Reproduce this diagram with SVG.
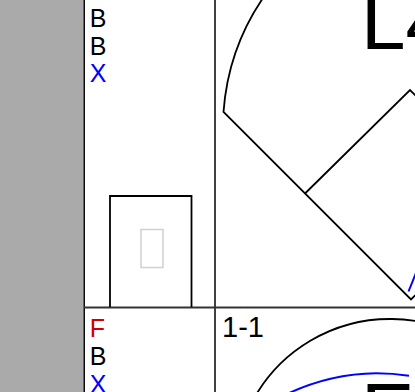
<svg xmlns="http://www.w3.org/2000/svg" width="415" height="392" viewBox="0 0 415 392">
<style>
.t{font-family:"Liberation Sans",Arial,sans-serif;font-size:25px}
.big{font-family:"Liberation Sans",Arial,sans-serif;font-size:80px;fill:#000}
.ln{fill:none;stroke:#000;stroke-width:1.8}
.bl{fill:none;stroke:#0000ff;stroke-width:2}
</style>
<rect x="0" y="0" width="415" height="392" fill="#fff"/>
<rect x="0" y="0" width="83.5" height="392" fill="#aaaaaa"/>
<g id="grid">
<line x1="84.2" y1="0" x2="84.2" y2="392" stroke="#000" stroke-width="1.5"/>
<line x1="215" y1="0" x2="215" y2="392" stroke="#000" stroke-width="1.5"/>
<line x1="84" y1="307.5" x2="415" y2="307.5" stroke="#333" stroke-width="2"/>
</g>
<g id="legend-top">
<text class="t" x="89.8" y="27" fill="#000">B</text>
<text class="t" x="89.8" y="54.5" fill="#000">B</text>
<text class="t" x="89.8" y="82" fill="#0000ff">X</text>
</g>
<g id="legend-bottom">
<text class="t" x="89.8" y="337.3" fill="#cc0000">F</text>
<text class="t" x="89.8" y="365" fill="#000">B</text>
<text class="t" x="89.8" y="392.5" fill="#0000ff">X</text>
</g>
<g id="box">
<path class="ln" d="M110 307 V196 H191.5 V307"/>
<rect x="141" y="229.5" width="22" height="38" fill="none" stroke="#d0d0d0" stroke-width="1.5"/>
</g>
<g id="cell-top">
<path class="ln" d="M268.7 -10 A233 233 0 0 0 223.5 112 L411 299.5 L431 279.5"/>
<path class="ln" d="M305 193.5 L410 90 L431 111"/>
<line class="bl" x1="408.5" y1="291.5" x2="418" y2="268"/>
<text class="big" x="361" y="49">L4</text>
</g>
<g id="cell-bottom">
<text x="222" y="337.3" font-family="Liberation Sans, Arial, sans-serif" font-size="29" fill="#000">1-1</text>
<path class="ln" d="M252 402 A156 156 0 0 1 392 319 A156 156 0 0 1 430 324"/>
<path class="bl" d="M283 396 A215 215 0 0 1 376 373.2 A215 215 0 0 1 409 375.7"/>
<text class="big" x="361" y="439">E</text>
</g>
</svg>
